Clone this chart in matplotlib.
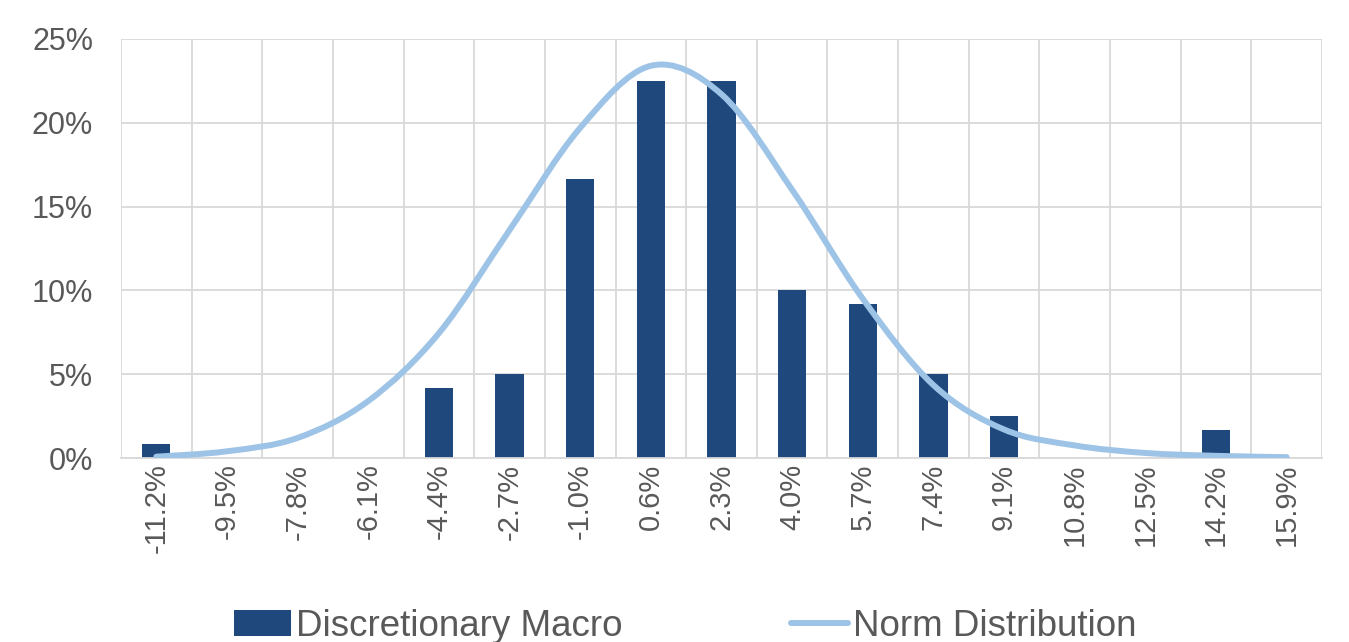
import matplotlib.pyplot as plt
import matplotlib.ticker as mtick
from matplotlib.path import Path
from matplotlib.patches import PathPatch
from matplotlib.lines import Line2D
from matplotlib.patches import Patch
import numpy as np

plt.rcParams['font.family'] = ['Liberation Sans', 'DejaVu Sans']

# Data
categories = ['-11.2%', '-9.5%', '-7.8%', '-6.1%', '-4.4%', '-2.7%', '-1.0%', '0.6%', '2.3%',
              '4.0%', '5.7%', '7.4%', '9.1%', '10.8%', '12.5%', '14.2%', '15.9%']
macro = [0.83, 0, 0, 0, 4.17, 5.0, 16.67, 22.5, 22.5, 10.0, 9.17, 5.0, 2.5, 0, 0, 1.67, 0]
norm_dist = [0.08, 0.4, 1.2, 3.4, 7.45, 13.6, 19.7, 23.4, 21.7, 16.0, 9.5, 4.35, 1.7, 0.75, 0.3, 0.13, 0.05]

bar_color = '#1F497D'
line_color = '#9DC3E6'
grid_color = '#D9D9D9'
text_color = '#595959'

fig = plt.figure(figsize=(13.49, 6.42), dpi=100)
ax = fig.add_axes([0.0897, 0.2866, 0.8903, 0.6527])

x = np.arange(len(categories))
ax.bar(x, macro, width=0.4, color=bar_color, zorder=2)

# smoothed line (bezier through the points, like Excel's "smoothed line")
pts = np.column_stack([x, norm_dist]).astype(float)
verts = [tuple(pts[0])]
codes = [Path.MOVETO]
t = 1 / 6
for i in range(len(pts) - 1):
    p0 = pts[i - 1] if i > 0 else pts[i]
    p1 = pts[i]
    p2 = pts[i + 1]
    p3 = pts[i + 2] if i + 2 < len(pts) else pts[i + 1]
    c1 = p1 + (p2 - p0) * t
    c2 = p2 - (p3 - p1) * t
    verts += [tuple(c1), tuple(c2), tuple(p2)]
    codes += [Path.CURVE4, Path.CURVE4, Path.CURVE4]
patch = PathPatch(Path(verts, codes), facecolor='none', edgecolor=line_color,
                  lw=4.3, capstyle='round', joinstyle='round', zorder=3)
ax.add_patch(patch)

ax.set_xlim(-0.5, len(categories) - 0.5)
ax.set_ylim(0, 25)
ax.set_yticks(np.arange(0, 26, 5))
ax.yaxis.set_major_formatter(mtick.FormatStrFormatter('%d%%'))
ax.set_xticks(x)
ax.set_xticklabels(categories, rotation=90)
ax.set_xticks(np.arange(-0.5, len(categories), 1), minor=True)

ax.grid(axis='y', which='major', color=grid_color, lw=1.3, zorder=0)
ax.grid(axis='x', which='minor', color=grid_color, lw=1.3, zorder=0)
ax.set_axisbelow(True)
for s in ax.spines.values():
    s.set_visible(False)
ax.spines['bottom'].set_visible(True)
ax.spines['bottom'].set_color(grid_color)
ax.spines['bottom'].set_linewidth(1.3)

ax.tick_params(axis='both', which='both', length=0)
ax.tick_params(axis='y', labelsize=22, labelcolor=text_color, pad=20)
ax.tick_params(axis='x', labelsize=21, labelcolor=text_color, pad=4)

handles = [Patch(facecolor=bar_color, label='Discretionary Macro'),
           Line2D([0], [0], color=line_color, lw=4.3, solid_capstyle='round', label='Norm Distribution')]
fig.legend(handles=handles, loc='center', bbox_to_anchor=(0.508, 0.024), ncol=2, frameon=False,
           fontsize=26.5, labelcolor=text_color, handlelength=1.55, handletextpad=0.12,
           columnspacing=4.6)

fig.savefig('out.png', dpi=100)
